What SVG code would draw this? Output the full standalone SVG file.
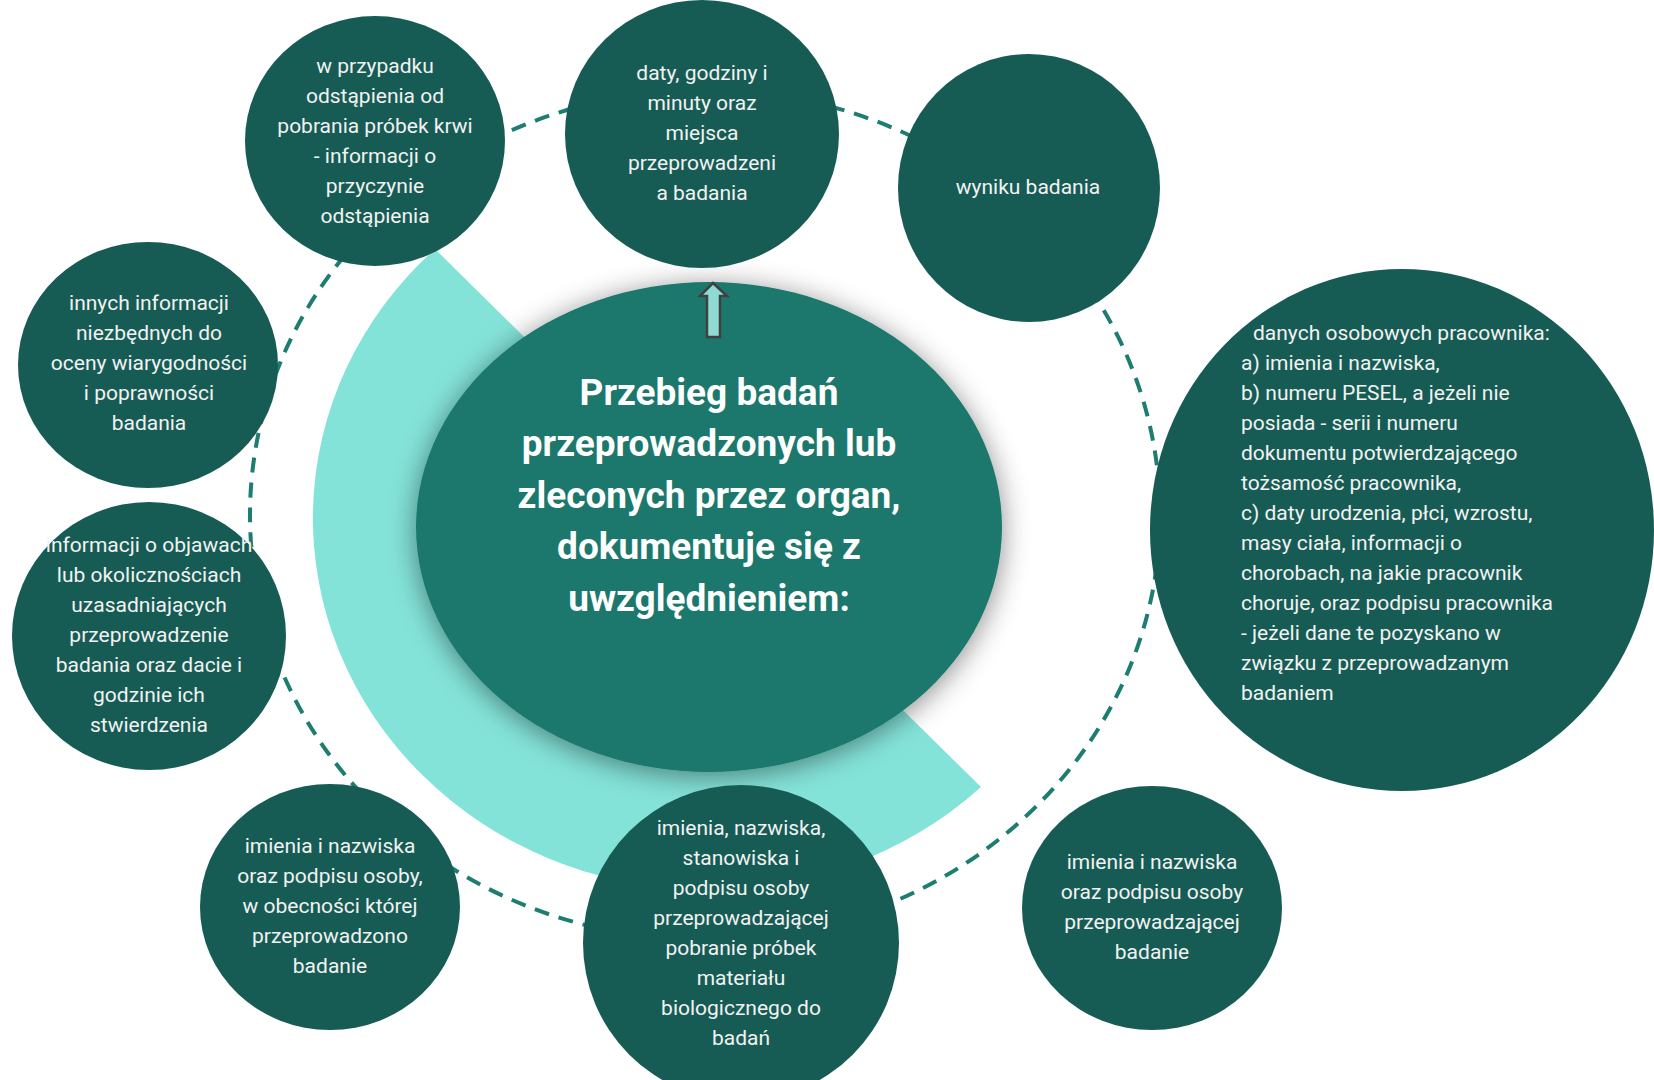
<svg xmlns="http://www.w3.org/2000/svg" width="1654" height="1080" viewBox="0 0 1654 1080">
<defs>
<filter id="shadow" x="-20%" y="-20%" width="140%" height="140%">
<feDropShadow dx="0" dy="4" stdDeviation="14" flood-color="#000" flood-opacity="0.45"/>
</filter>
<style>
.node{fill:#165c54}
.t{font-family:Roboto,"Liberation Sans",sans-serif;font-size:21px;fill:#f2f2f2;text-anchor:middle}
.tl{font-family:Roboto,"Liberation Sans",sans-serif;font-size:21px;fill:#f2f2f2}
.title{font-family:Roboto,"Liberation Sans",sans-serif;font-size:37px;font-weight:bold;fill:#ffffff;text-anchor:middle}
</style>
</defs>
<rect width="1654" height="1080" fill="#ffffff"/>
<g id="connectors">
<ellipse cx="705" cy="515" rx="455" ry="425" fill="none" stroke="#1d7d71" stroke-width="4" stroke-dasharray="15 10"/>
</g>
<g id="arc">
<path d="M708,518 L435,249 A395,372 0 1,0 981,787 Z" fill="#84e3d9"/>
</g>
<g id="center">
<ellipse cx="709" cy="527" rx="293" ry="245" fill="#1b786d" filter="url(#shadow)"/>
<path d="M713,283 L727,296 L720,296 L720,337 L707,337 L707,296 L700,296 Z" fill="#8fdad2" stroke="#404040" stroke-width="2.5" stroke-linejoin="miter"/>
<text class="title" x="709"><tspan x="709" y="405">Przebieg badań</tspan><tspan x="709" y="456">przeprowadzonych lub</tspan><tspan x="709" y="508">zleconych przez organ,</tspan><tspan x="709" y="559">dokumentuje się z</tspan><tspan x="709" y="611">uwzględnieniem:</tspan></text>
</g>
<g id="n1">
<ellipse class="node" cx="375" cy="141" rx="130" ry="125"/>
<text class="t"><tspan x="375" y="73">w przypadku</tspan><tspan x="375" y="103">odstąpienia od</tspan><tspan x="375" y="133">pobrania próbek krwi</tspan><tspan x="375" y="163">- informacji o</tspan><tspan x="375" y="193">przyczynie</tspan><tspan x="375" y="223">odstąpienia</tspan></text>
</g>
<g id="n2">
<ellipse class="node" cx="702" cy="134" rx="137" ry="134"/>
<text class="t"><tspan x="702" y="80">daty, godziny i</tspan><tspan x="702" y="110">minuty oraz</tspan><tspan x="702" y="140">miejsca</tspan><tspan x="702" y="170">przeprowadzeni</tspan><tspan x="702" y="200">a badania</tspan></text>
</g>
<g id="n3">
<ellipse class="node" cx="1029" cy="188" rx="131" ry="134"/>
<text class="t" x="1028" y="194">wyniku badania</text>
</g>
<g id="n4">
<ellipse class="node" cx="1402" cy="530" rx="252" ry="261"/>
<text class="tl"><tspan x="1253" y="340">danych osobowych pracownika:</tspan><tspan x="1241" y="370">a) imienia i nazwiska,</tspan><tspan x="1241" y="400">b) numeru PESEL, a jeżeli nie</tspan><tspan x="1241" y="430">posiada - serii i numeru</tspan><tspan x="1241" y="460">dokumentu potwierdzającego</tspan><tspan x="1241" y="490">tożsamość pracownika,</tspan><tspan x="1241" y="520">c) daty urodzenia, płci, wzrostu,</tspan><tspan x="1241" y="550">masy ciała, informacji o</tspan><tspan x="1241" y="580">chorobach, na jakie pracownik</tspan><tspan x="1241" y="610">choruje, oraz podpisu pracownika</tspan><tspan x="1241" y="640">- jeżeli dane te pozyskano w</tspan><tspan x="1241" y="670">związku z przeprowadzanym</tspan><tspan x="1241" y="700">badaniem</tspan></text>
</g>
<g id="n5">
<ellipse class="node" cx="1152" cy="908" rx="130" ry="122"/>
<text class="t"><tspan x="1152" y="869">imienia i nazwiska</tspan><tspan x="1152" y="899">oraz podpisu osoby</tspan><tspan x="1152" y="929">przeprowadzającej</tspan><tspan x="1152" y="959">badanie</tspan></text>
</g>
<g id="n6">
<ellipse class="node" cx="741" cy="943" rx="158" ry="158"/>
<text class="t"><tspan x="741" y="835">imienia, nazwiska,</tspan><tspan x="741" y="865">stanowiska i</tspan><tspan x="741" y="895">podpisu osoby</tspan><tspan x="741" y="925">przeprowadzającej</tspan><tspan x="741" y="955">pobranie próbek</tspan><tspan x="741" y="985">materiału</tspan><tspan x="741" y="1015">biologicznego do</tspan><tspan x="741" y="1045">badań</tspan></text>
</g>
<g id="n7">
<ellipse class="node" cx="330" cy="907" rx="130" ry="123"/>
<text class="t"><tspan x="330" y="853">imienia i nazwiska</tspan><tspan x="330" y="883">oraz podpisu osoby,</tspan><tspan x="330" y="913">w obecności której</tspan><tspan x="330" y="943">przeprowadzono</tspan><tspan x="330" y="973">badanie</tspan></text>
</g>
<g id="n8">
<ellipse class="node" cx="149" cy="636" rx="137" ry="134"/>
<text class="t"><tspan x="149" y="552">informacji o objawach</tspan><tspan x="149" y="582">lub okolicznościach</tspan><tspan x="149" y="612">uzasadniających</tspan><tspan x="149" y="642">przeprowadzenie</tspan><tspan x="149" y="672">badania oraz dacie i</tspan><tspan x="149" y="702">godzinie ich</tspan><tspan x="149" y="732">stwierdzenia</tspan></text>
</g>
<g id="n9">
<ellipse class="node" cx="148" cy="365" rx="130" ry="123"/>
<text class="t"><tspan x="149" y="310">innych informacji</tspan><tspan x="149" y="340">niezbędnych do</tspan><tspan x="149" y="370">oceny wiarygodności</tspan><tspan x="149" y="400">i poprawności</tspan><tspan x="149" y="430">badania</tspan></text>
</g>
</svg>
